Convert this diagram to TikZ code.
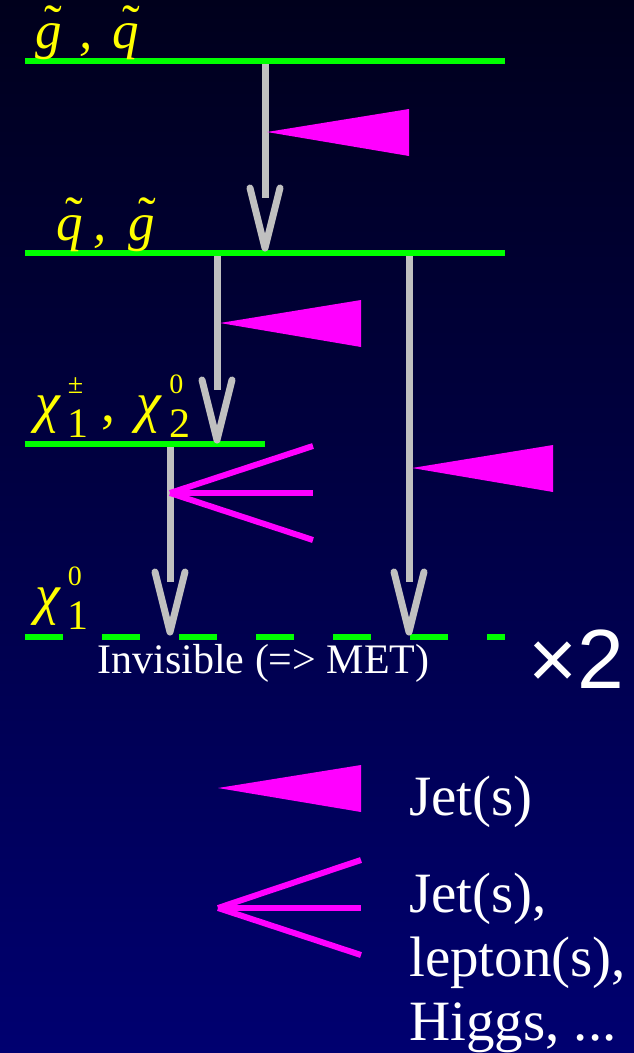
\documentclass[tikz,border=0pt]{standalone}
\usepackage{fontspec}
\setmainfont{Liberation Serif}
\newfontfamily\arialf{Liberation Sans}
\usetikzlibrary{calc}
\definecolor{lvl}{RGB}{0,255,0}
\definecolor{arr}{RGB}{192,192,192}
\definecolor{mag}{RGB}{255,0,255}
\definecolor{lab}{RGB}{255,255,0}
\definecolor{bgtop}{RGB}{0,0,28}
\definecolor{bgbot}{RGB}{0,0,112}
\newcommand\tl[1]{\ooalign{#1\cr\hidewidth\kern10pt\raisebox{7pt}{\upshape\char"02DC}\hidewidth\cr}}
\newcommand\susb[2]{\kern8pt\makebox[0pt][l]{\raisebox{-16pt}{\upshape\fontsize{42}{42}\selectfont #2}}\makebox[0pt][l]{\raisebox{28pt}{\upshape\fontsize{28}{28}\selectfont #1}}\hspace{21pt}}
\newcommand\varrow[2]{%
  \draw[shaft] (#1) -- ($(#2)+(0,-50)$);
  \draw[vhead] ($(#2)+(-15,-60)$) -- (#2) -- ($(#2)+(15,-60)$);}
\begin{document}
\begin{tikzpicture}[x=1pt,y=-1pt,
  level/.style={draw=lvl,line width=6pt},
  shaft/.style={draw=arr,line width=7pt},
  vhead/.style={draw=arr,line width=7pt,line cap=round,line join=round},
  jet/.style={fill=mag},
  fan/.style={draw=mag,line width=6pt},
  lbl/.style={text=lab,inner sep=0pt,anchor=base west},
  txt/.style={text=white,inner sep=0pt}]
\useasboundingbox (0,0) rectangle (634,1053);
\shade[top color=bgtop,bottom color=bgbot] (0,0) rectangle (634,1053);
% levels
\coordinate (a1) at (25,61);  \coordinate (b1) at (505,61);
\coordinate (a2) at (25,253); \coordinate (b2) at (505,253);
\coordinate (a3) at (25,444); \coordinate (b3) at (265,444);
\coordinate (a4) at (25,637); \coordinate (b4) at (505,637);
\draw[level] (a1) -- (b1);
\draw[level] (a2) -- (b2);
\draw[level] (a3) -- (b3);
\draw[level,dash pattern=on 38pt off 39pt] (a4) -- (b4);
% arrows
\coordinate (s1) at (265,64);  \coordinate (e1) at (265,248);
\coordinate (s2) at (217,256); \coordinate (e2) at (217,440);
\coordinate (s3) at (409,256); \coordinate (e3) at (409,632);
\coordinate (s4) at (170,447); \coordinate (e4) at (170,632);
\varrow{s1}{e1}
\varrow{s2}{e2}
\varrow{s3}{e3}
\varrow{s4}{e4}
% jets
\coordinate (t1) at (267,132);
\fill[jet] (t1) -- (409,109) -- (409,156) -- cycle;
\coordinate (t2) at (220,323);
\fill[jet] (t2) -- (361,300) -- (361,347) -- cycle;
\coordinate (t3) at (412,468);
\fill[jet] (t3) -- (553,445) -- (553,492) -- cycle;
% fan
\coordinate (f) at (170,493);
\coordinate (f1) at (313,446); \coordinate (f2) at (313,493); \coordinate (f3) at (313,540);
\draw[fan] (f) -- (f1);
\draw[fan] (f) -- (f2);
\draw[fan] (f) -- (f3);
% labels
\node[lbl,font=\fontsize{53}{53}\selectfont\itshape] (gq) at (35,48) {\tl{g}\hspace{18pt},\hspace{20pt}\tl{q}};
\node[lbl,font=\fontsize{53}{53}\selectfont\itshape] (qg) at (56,240) {\tl{q}\hspace{11pt},\hspace{22pt}\tl{g}};
\node[lbl,font=\fontsize{56}{56}\selectfont\itshape] (cc) at (35,421) {χ\susb{±}{1}\hspace{13pt}\upshape,\hspace{21pt}\itshape χ\susb{0}{2}};
\node[lbl,font=\fontsize{56}{56}\selectfont\itshape] (cn) at (35,613) {χ\susb{0}{1}};
\node[txt,anchor=base,font=\fontsize{42}{42}\selectfont] (inv) at (263.5,673) {Invisible (=> MET)};
\node[txt,anchor=base west,font=\arialf\fontsize{84}{84}\selectfont] (x2) at (528,688) {×2};
% legend
\coordinate (lt) at (218,788);
\fill[jet] (lt) -- (361,765) -- (361,812) -- cycle;
\coordinate (lf) at (218,908);
\coordinate (lf1) at (361,860); \coordinate (lf2) at (361,908); \coordinate (lf3) at (361,955);
\draw[fan] (lf) -- (lf1);
\draw[fan] (lf) -- (lf2);
\draw[fan] (lf) -- (lf3);
\node[txt,anchor=base west,font=\fontsize{57}{57}\selectfont] (j1) at (409,815) {Jet(s)};
\node[txt,anchor=base west,align=left,font=\fontsize{57}{64}\selectfont] (j2) at (409,1040) {Jet(s),\\lepton(s),\\Higgs, ...};
\end{tikzpicture}
\end{document}
